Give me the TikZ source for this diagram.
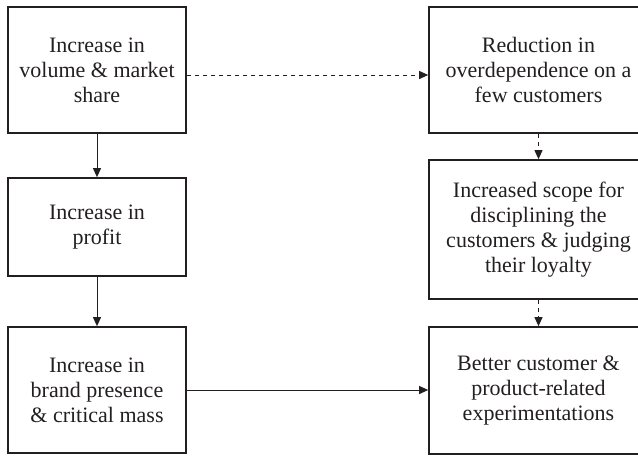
\documentclass[tikz,border=0pt]{standalone}
\usepackage{fontspec}
\setmainfont{Liberation Serif}
\usetikzlibrary{arrows.meta}
\definecolor{ink}{HTML}{231F20}
\begin{document}
\begin{tikzpicture}[x=1pt,y=-1pt,
  box/.style={draw=ink,line width=1.7pt,text=ink,align=center,inner sep=0pt,
    font=\fontsize{22pt}{25pt}\selectfont},
  link/.style={draw=ink,line width=1pt,-{Triangle[length=9pt,width=8pt]}},
  dlink/.style={link,dash pattern=on 4.5pt off 3.5pt}]
\useasboundingbox (0,0) rectangle (638,456);
\begin{scope}
\clip (0,0) rectangle (638,456);
% left column
\node[box,minimum width=178pt,minimum height=126pt] (a) at (97,70) {Increase in\\volume \& market\\share};
\node[box,minimum width=178pt,minimum height=98pt] (b) at (97,227) {Increase in\\profit};
\node[box,minimum width=178pt,minimum height=126pt] (c) at (97,390) {Increase in\\brand presence\\\& critical mass};
% right column (runs off the right edge)
\node[box,minimum width=219pt,minimum height=126pt] (d) at (538.5,70) {Reduction in\\overdependence on a\\few customers};
\node[box,minimum width=219pt,minimum height=139pt] (e) at (538.5,229.5) {Increased scope for\\disciplining the\\customers \& judging\\their loyalty};
\node[box,minimum width=219pt,minimum height=127pt] (f) at (538.5,390.5) {Better customer \&\\product-related\\experimentations};
\end{scope}
% connectors
\draw[link] (a.south) -- (b.north);
\draw[link] (b.south) -- (c.north);
\draw[link] (c.east) -- (c.east -| f.west);
\draw[dlink] ([yshift=-5pt]a.east) -- ([yshift=-5pt]a.east -| d.west);
\draw[dlink] (d.south) -- (e.north);
\draw[dlink] (e.south) -- (f.north);
\end{tikzpicture}
\end{document}
